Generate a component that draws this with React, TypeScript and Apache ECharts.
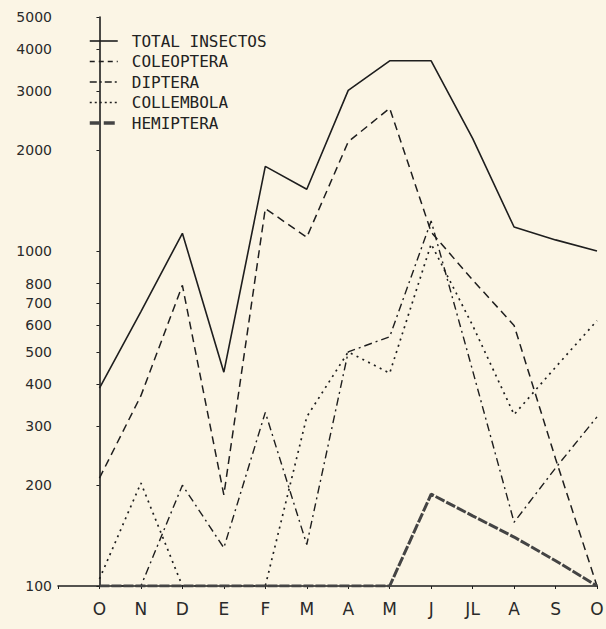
import React, { useEffect, useRef } from 'react';
import * as echarts from 'echarts';

const months = ['O', 'N', 'D', 'E', 'F', 'M', 'A', 'M', 'J', 'JL', 'A', 'S', 'O'];
const totalInsectos = [390, 660, 1130, 435, 1790, 1530, 3020, 3700, 3700, 2170, 1180, 1080, 1000];
const coleoptera = [210, 370, 790, 187, 1340, 1100, 2120, 2670, 1140, 820, 600, 240, 100];
const diptera = [100, 100, 200, 130, 330, 133, 500, 555, 1230, 440, 155, 225, 320];
const collembola = [105, 203, 100, 100, 100, 320, 500, 432, 1050, 600, 325, 450, 620];
const hemiptera = [100, 100, 100, 100, 100, 100, 100, 100, 188, 162, 140, 119, 100];
const yTicks = [100, 200, 300, 400, 500, 600, 700, 800, 1000, 2000, 3000, 4000, 5000];

const ink = '#1e1e1e';
const paper = '#fbf5e5';

const toPairs = (arr: number[]) => arr.map((v, i) => [i, v]);

export default function App() {
  const ref = useRef<HTMLDivElement>(null);
  useEffect(() => {
    if (!ref.current) return;
    const chart = echarts.init(ref.current, null, { renderer: 'svg' });
    const mk = (name: string, data: number[], type: any, width: number, color: string) => ({
      name,
      type: 'line',
      data: toPairs(data),
      symbol: 'none',
      lineStyle: { color, width, type },
      itemStyle: { color },
      z: 3,
    });
    chart.setOption({
      animation: false,
      backgroundColor: paper,
      grid: { left: 58, right: 9, top: 17, bottom: 43, outerBoundsMode: 'none', containLabel: false },
      legend: {
        orient: 'vertical',
        left: 88,
        top: 33,
        padding: 0,
        itemWidth: 28,
        itemHeight: 12,
        itemGap: 4.5,
        itemStyle: { opacity: 0 },
        textStyle: { fontFamily: 'DejaVu Sans Mono', fontSize: 16, color: '#222', lineHeight: 16, padding: [0, 0, 0, 9] },
        data: [
          { name: 'TOTAL INSECTOS', lineStyle: { width: 1.6 } },
          { name: 'COLEOPTERA', lineStyle: { width: 1.5, type: [5, 4] } },
          { name: 'DIPTERA', lineStyle: { width: 1.4, type: [7, 3, 2, 3] } },
          { name: 'COLLEMBOLA', lineStyle: { width: 1.6, type: [2, 3] } },
          { name: 'HEMIPTERA', lineStyle: { width: 3.5, type: [11, 3] } },
        ],
      },
      xAxis: {
        type: 'value',
        min: -1,
        max: 12,
        interval: 1,
        splitLine: { show: false },
        axisLine: { show: true, lineStyle: { color: ink, width: 1.6 } },
        axisTick: { show: true, length: 3, lineStyle: { color: ink } },
        axisLabel: {
          showMaxLabel: true,
          showMinLabel: true,
          margin: 14,
          fontFamily: 'DejaVu Sans',
          fontSize: 17,
          color: '#2a2a2a',
          formatter: (v: number) => (v >= 0 && v < months.length ? months[Math.round(v)] : ''),
        },
      },
      yAxis: {
        type: 'log',
        logBase: 10,
        min: 100,
        max: 5000,
        splitLine: { show: false },
        axisLine: { show: true, lineStyle: { color: ink, width: 1.6 } },
        axisTick: { show: true, length: 3, lineStyle: { color: ink }, customValues: yTicks },
        axisLabel: {
          customValues: yTicks,
          margin: 6,
          fontFamily: 'DejaVu Sans',
          fontSize: 14,
          color: '#2a2a2a',
          formatter: (v: number) => String(Math.round(v)),
        },
      },
      series: [
        mk('TOTAL INSECTOS', totalInsectos, 'solid', 1.6, ink),
        mk('COLEOPTERA', coleoptera, [8, 5], 1.5, ink),
        mk('DIPTERA', diptera, [8, 4, 2, 4], 1.4, ink),
        mk('COLLEMBOLA', collembola, [2, 4.5], 1.7, ink),
        mk('HEMIPTERA', hemiptera, [10, 2], 3, '#444'),
      ],
    });
    return () => chart.dispose();
  }, []);
  return (
    <div style={{ position: 'fixed', left: 0, top: 0, width: 606, height: 629, background: paper }}>
      <div ref={ref} style={{ width: 606, height: 629 }} />
    </div>
  );
}
